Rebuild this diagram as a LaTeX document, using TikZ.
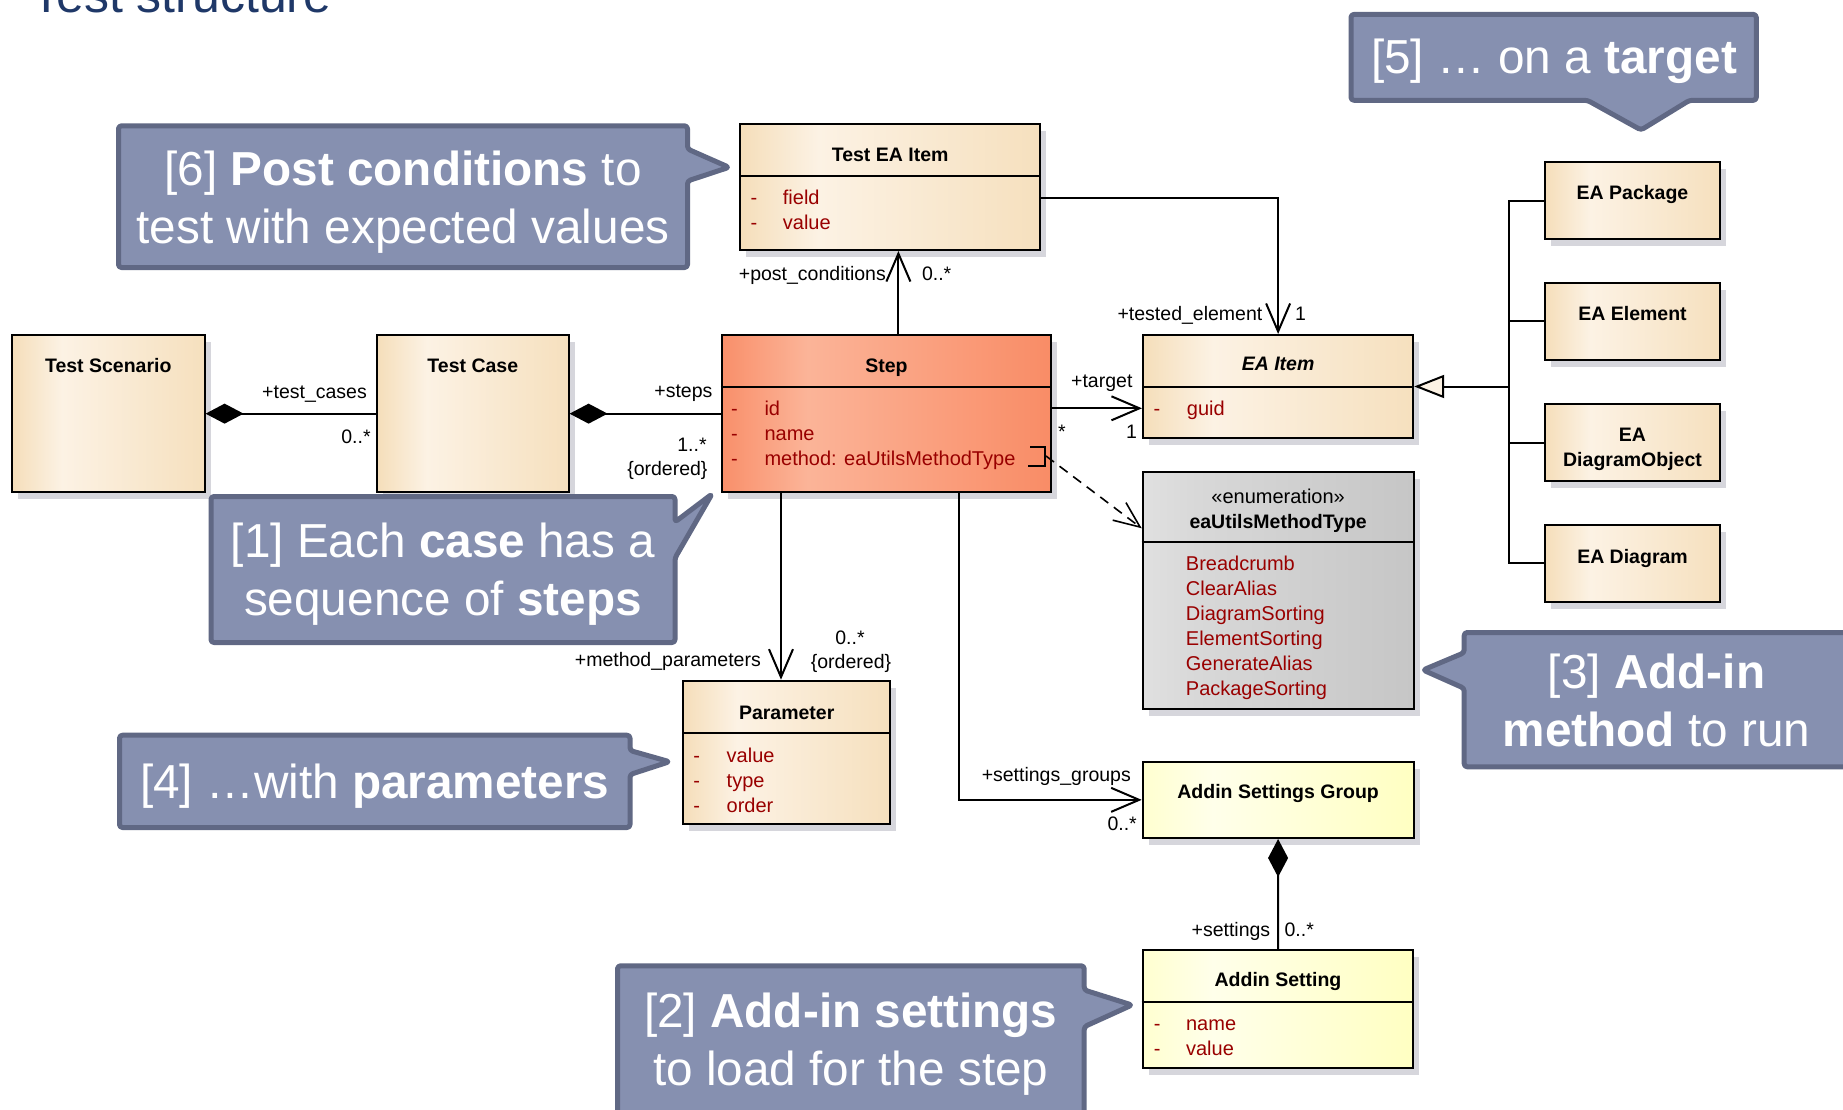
\documentclass[tikz,border=0pt]{standalone}
\usepackage{fontspec}
\setmainfont{Liberation Sans}
\usetikzlibrary{arrows.meta,shadows}
\definecolor{callfill}{RGB}{134,144,176}
\definecolor{calldraw}{RGB}{96,104,132}
\definecolor{attrc}{RGB}{153,0,0}
\definecolor{shadowc}{RGB}{214,214,220}
\definecolor{titlec}{RGB}{31,56,104}
\definecolor{beigeA}{RGB}{245,222,186}
\definecolor{beigeB}{RGB}{252,242,228}
\definecolor{beigeC}{RGB}{246,224,190}
\definecolor{orangeA}{RGB}{249,143,106}
\definecolor{orangeB}{RGB}{251,180,152}
\definecolor{orangeC}{RGB}{249,140,102}
\definecolor{grayA}{RGB}{224,224,224}
\definecolor{grayB}{RGB}{216,216,216}
\definecolor{grayC}{RGB}{198,198,198}
\definecolor{yelA}{RGB}{255,255,208}
\definecolor{yelB}{RGB}{255,255,234}
\definecolor{yelC}{RGB}{255,255,194}
\pgfdeclarehorizontalshading{beigesh}{100bp}{color(0bp)=(beigeA); color(25bp)=(beigeA); color(38bp)=(beigeB); color(75bp)=(beigeC); color(100bp)=(beigeC)}
\pgfdeclarehorizontalshading{orangesh}{100bp}{color(0bp)=(orangeA); color(25bp)=(orangeA); color(38bp)=(orangeB); color(75bp)=(orangeC); color(100bp)=(orangeC)}
\pgfdeclarehorizontalshading{graysh}{100bp}{color(0bp)=(grayA); color(25bp)=(grayA); color(35bp)=(grayB); color(75bp)=(grayC); color(100bp)=(grayC)}
\pgfdeclarehorizontalshading{yelsh}{100bp}{color(0bp)=(yelA); color(25bp)=(yelA); color(38bp)=(yelB); color(75bp)=(yelC); color(100bp)=(yelC)}
\begin{document}
\begin{tikzpicture}[x=1pt,y=-1pt,
  cls/.style={draw=black, line width=2pt, rectangle, inner sep=0pt,
    drop shadow={shadow xshift=6pt, shadow yshift=-7pt, fill=shadowc, opacity=1}},
  ttl/.style={font=\fontsize{19.5}{25}\selectfont\bfseries, anchor=base, inner sep=0pt},
  dashm/.style={font=\fontsize{20}{24}\selectfont, text=attrc, anchor=base, inner sep=0pt},
  attr/.style={font=\fontsize{20}{24}\selectfont, text=attrc, anchor=base west, inner sep=0pt},
  lbl/.style={font=\fontsize{19.5}{23}\selectfont, inner sep=0pt},
  divider/.style={line width=2pt},
  assoc/.style={draw, line width=2pt, -{Straight Barb[length=28pt,width=24pt]}},
  comp/.style={draw, line width=2pt, {Diamond[length=38pt,width=20pt]}-},
  gen/.style={draw, line width=2pt, {Triangle[length=30pt,width=23pt,fill=beigeB]}-},
  dep/.style={draw, line width=1.6pt, dash pattern=on 10pt off 7pt, -{Straight Barb[length=26pt,width=22pt]}},
  callout/.style={fill=callfill, draw=calldraw, line width=5pt, rounded corners=3pt, line join=round},
  ctext/.style={font=\fontsize{47.7}{58}\selectfont, text=white, inner sep=0pt, align=center}]
\useasboundingbox (0,0) rectangle (1843,1110);
\clip (0,0) rectangle (1843,1110);
\fill[white] (0,0) rectangle (1843,1110);

% title (cut by the top edge, as in the reference)
\node[font=\fontsize{50}{60}\selectfont, text=titlec, anchor=base west, inner sep=0pt] (title) at (31,12.5) {Test structure};

% ---------- classes ----------
\node[cls, shading=beigesh, minimum width=192.6pt, minimum height=157.3pt] (TS) at (108.3,413.65) {};
\node[ttl] (TSn) at (108.3,372) {Test Scenario};

\node[cls, shading=beigesh, minimum width=191.6pt, minimum height=157.3pt] (TC) at (472.8,413.65) {};
\node[ttl] (TCn) at (472.8,372) {Test Case};

\node[cls, shading=orangesh, minimum width=329.7pt, minimum height=156.7pt] (Step) at (886.45,413.35) {};
\draw[divider] (Step.west |- 0,386.7) -- (Step.east |- 0,386.7);
\node[ttl] (Stepn) at (886.45,372.5) {Step};
\node[dashm] (Stepd1) at (734.4,415.8) {-};
\node[attr] (Stepa1) at (764.3,415.8) {id};
\node[dashm] (Stepd2) at (734.4,440.8) {-};
\node[attr] (Stepa2) at (764.3,440.8) {name};
\node[dashm] (Stepd3) at (734.4,465.8) {-};
\node[attr] (Stepa3) at (764.3,465.8) {method: eaUtilsMethodType};
\draw[line width=1.6pt] (1030,446.7) -- (1044.8,446.7) -- (1044.8,465.7) -- (1028,465.7);
\coordinate (brk) at (1046,456);

\node[cls, shading=beigesh, minimum width=299.4pt, minimum height=126pt] (TEI) at (890.1,187) {};
\draw[divider] (TEI.west |- 0,175.7) -- (TEI.east |- 0,175.7);
\node[ttl] (TEIn) at (890.1,161.5) {Test EA Item};
\node[dashm] (TEId1) at (754,204.2) {-};
\node[attr] (TEIa1) at (782.7,204.2) {field};
\node[dashm] (TEId2) at (754,229.2) {-};
\node[attr] (TEIa2) at (782.7,229.2) {value};

\node[cls, shading=beigesh, minimum width=270.2pt, minimum height=103.3pt] (EAI) at (1278.1,386.65) {};
\draw[divider] (EAI.west |- 0,386.7) -- (EAI.east |- 0,386.7);
\node[ttl, font=\fontsize{19.5}{25}\selectfont\bfseries\itshape] (EAIn) at (1278.1,370) {EA Item};
\node[dashm] (EAId1) at (1157,415.8) {-};
\node[attr] (EAIa1) at (1186.7,415.8) {guid};

\node[cls, shading=graysh, minimum width=270.9pt, minimum height=237.6pt] (ENUM) at (1278.15,590.5) {};
\draw[divider] (ENUM.west |- 0,542.3) -- (ENUM.east |- 0,542.3);
\node[ttl, font=\fontsize{20}{24}\selectfont] (ENUMs) at (1278.15,503.5) {«enumeration»};
\node[ttl] (ENUMn) at (1278.15,528.3) {eaUtilsMethodType};
\node[attr] (ENUM1) at (1185.7,570) {Breadcrumb};
\node[attr] (ENUM2) at (1185.7,595) {ClearAlias};
\node[attr] (ENUM3) at (1185.7,620) {DiagramSorting};
\node[attr] (ENUM4) at (1185.7,645) {ElementSorting};
\node[attr] (ENUM5) at (1185.7,670) {GenerateAlias};
\node[attr] (ENUM6) at (1185.7,695) {PackageSorting};

\node[cls, shading=beigesh, minimum width=206.6pt, minimum height=143.6pt] (PAR) at (786.7,752.5) {};
\draw[divider] (PAR.west |- 0,732.7) -- (PAR.east |- 0,732.7);
\node[ttl] (PARn) at (786.7,719.5) {Parameter};
\node[dashm] (PARd1) at (696.6,762) {-};
\node[attr] (PARa1) at (726.5,762) {value};
\node[dashm] (PARd2) at (696.6,787) {-};
\node[attr] (PARa2) at (726.5,787) {type};
\node[dashm] (PARd3) at (696.6,812) {-};
\node[attr] (PARa3) at (726.5,812) {order};

\node[cls, shading=yelsh, minimum width=270.8pt, minimum height=76.3pt] (ASG) at (1278.1,799.85) {};
\node[ttl] (ASGn) at (1278.1,798.5) {Addin Settings Group};

\node[cls, shading=yelsh, minimum width=270.8pt, minimum height=118.3pt] (AS) at (1278,1009.15) {};
\draw[divider] (AS.west |- 0,1001.7) -- (AS.east |- 0,1001.7);
\node[ttl] (ASn) at (1278,986.5) {Addin Setting};
\node[dashm] (ASd1) at (1157.3,1030) {-};
\node[attr] (ASa1) at (1185.9,1030) {name};
\node[dashm] (ASd2) at (1157.3,1055) {-};
\node[attr] (ASa2) at (1185.9,1055) {value};

\node[cls, shading=beigesh, minimum width=175pt, minimum height=77pt] (EAP) at (1632.5,200.5) {};
\node[ttl] (EAPn) at (1632.5,199.5) {EA Package};
\node[cls, shading=beigesh, minimum width=175pt, minimum height=77pt] (EAE) at (1632.5,321.25) {};
\node[ttl] (EAEn) at (1632.5,320.3) {EA Element};
\node[cls, shading=beigesh, minimum width=175pt, minimum height=77pt] (EADO) at (1632.5,442.5) {};
\node[ttl, anchor=center, align=center] (EADOn) at (1632.5,449.5) {EA\\DiagramObject};
\node[cls, shading=beigesh, minimum width=175pt, minimum height=77pt] (EAD) at (1632.5,563.4) {};
\node[ttl] (EADn) at (1632.5,563.5) {EA Diagram};

% ---------- connectors ----------
\draw[comp] (TS.east) -- (TC.west);
\draw[comp] (TC.east) -- (Step.west |- TC.east);
\draw[assoc] (898.4,0 |- Step.north) -- (898.4,0 |- TEI.south);
\draw[assoc] (TEI.east |- 0,198.3) -| (EAI.north);
\draw[assoc] (Step.east |- 0,408.3) -- (EAI.west |- 0,408.3);
\draw[dep] (brk) -- (ENUM.west |- 0,528.3);
\draw[assoc] (781,0 |- Step.south) -- (781,0 |- PAR.north);
\draw[assoc] (959,0 |- Step.south) |- (ASG.west);
\draw[comp] (ASG.south) -- (AS.north);
\coordinate (J) at (1508.8,386.5);
\draw[gen] (EAI.east |- J) -- (J);
\draw[line width=2pt] (EAP.west) -| (J);
\draw[line width=2pt] (EAD.west) -| (J);
\draw[line width=2pt] (EAE.west) -- (EAE.west -| J);
\draw[line width=2pt] (EADO.west) -- (EADO.west -| J);

% ---------- connector labels ----------
\node[lbl, anchor=base east] (L1) at (367,398.5) {+test\_cases};
\node[lbl, anchor=base east] (L2) at (370.8,443.3) {0..*};
\node[lbl, anchor=base east] (L3) at (712.6,397.3) {+steps};
\node[lbl, anchor=base east] (L4) at (706.8,451.7) {1..*};
\node[lbl, anchor=base east] (L5) at (707.7,475) {\{ordered\}};
\node[lbl, anchor=base east] (L6) at (886,280) {+post\_conditions};
\node[lbl, anchor=base west] (L7) at (921.8,280) {0..*};
\node[lbl, anchor=base east] (L8) at (1262.5,320) {+tested\_element};
\node[lbl, anchor=base west] (L9) at (1295,320) {1};
\node[lbl, anchor=base] (L10) at (1101.8,387.3) {+target};
\node[lbl, anchor=base] (L11) at (1131.6,438.3) {1};
\node[lbl, anchor=base] (L12) at (1061.9,438) {*};
\node[lbl, anchor=base east] (L13) at (761,666.7) {+method\_parameters};
\node[lbl, anchor=base] (L14) at (850,644) {0..*};
\node[lbl, anchor=base] (L15) at (851,668.3) {\{ordered\}};
\node[lbl, anchor=base east] (L16) at (1131,781) {+settings\_groups};
\node[lbl, anchor=base east] (L17) at (1137,830) {0..*};
\node[lbl, anchor=base east] (L18) at (1270.4,936) {+settings};
\node[lbl, anchor=base west] (L19) at (1284.4,936) {0..*};

% ---------- callouts ----------
\path[callout] (118.5,125.8) -- (687.5,125.8) -- (687.5,149) -- (729,167.3) -- (687.5,181) -- (687.5,267.5) -- (118.5,267.5) -- cycle;
\node[ctext] (c6) at (403,201.9) {[6] \textbf{Post conditions} to\\test with expected values};

\path[callout] (211,496.5) -- (675,496.5) -- (675,522) -- (712,494) -- (675,558) -- (675,642.5) -- (211,642.5) -- cycle;
\node[ctext] (c1) at (443,573.75) {[1] Each \textbf{case} has a\\sequence of \textbf{steps}};

\path[callout] (119.5,735.2) -- (630,735.2) -- (630,750.5) -- (669.5,761.7) -- (630,774.5) -- (630,827.5) -- (119.5,827.5) -- cycle;
\node[ctext, anchor=base] (c4) at (374.8,798) {[4] …with \textbf{parameters}};

\path[callout] (1351,14.4) -- (1756.3,14.4) -- (1756.3,100.3) -- (1689.5,100.3) -- (1641,130) -- (1587.4,100.3) -- (1351,100.3) -- cycle;
\node[ctext, anchor=base] (c5) at (1554,73.8) {[5] … on a \textbf{target}};

\path[callout] (1464.2,632.5) -- (1860,632.5) -- (1860,766.8) -- (1464.2,766.8) -- (1464.2,688.3) -- (1423,670) -- (1464.2,652.7) -- cycle;
\node[ctext] (c3) at (1656.5,700.4) {[3] \textbf{Add-in}\\\textbf{method} to run};

\path[callout] (617.5,965.8) -- (1084.2,965.8) -- (1084.2,990) -- (1132,1005) -- (1084.2,1026.7) -- (1084.2,1130) -- (617.5,1130) -- cycle;
\node[ctext] (c2) at (850.8,1043.75) {[2] \textbf{Add-in settings}\\to load for the step};
\end{tikzpicture}
\end{document}
